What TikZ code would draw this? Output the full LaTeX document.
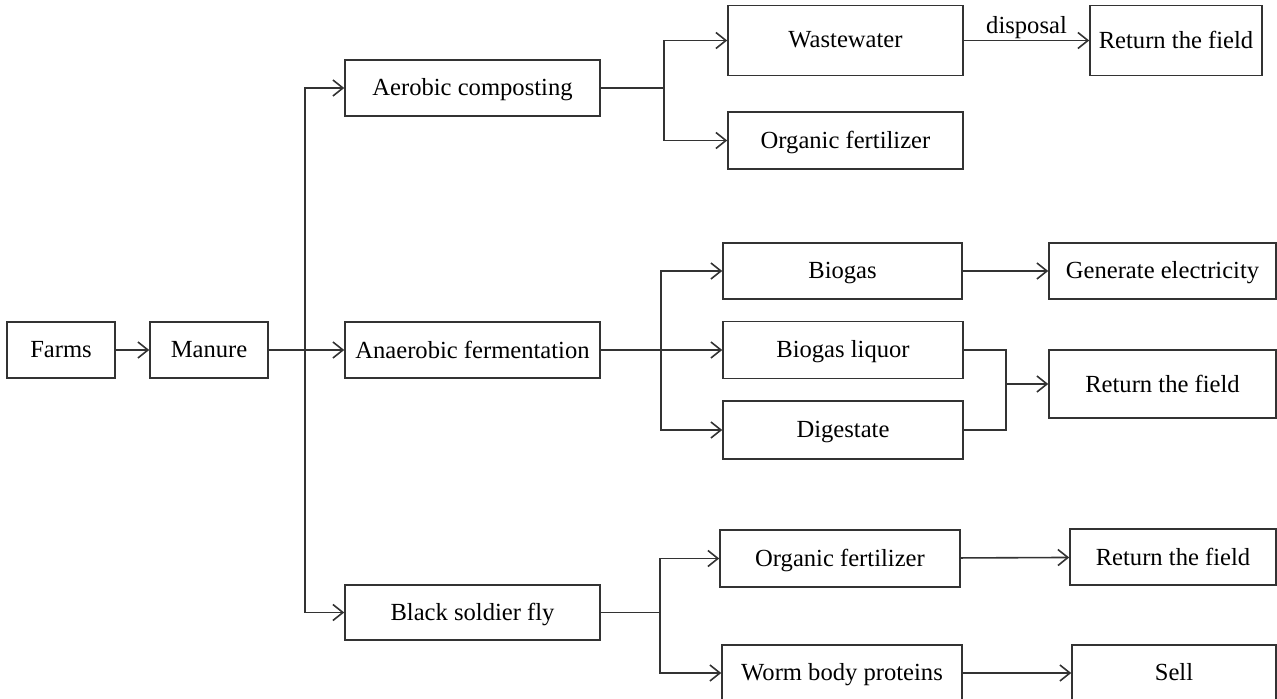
\documentclass[tikz,border=0pt]{standalone}
\usepackage{fontspec}
\setmainfont{Liberation Serif}
\usetikzlibrary{arrows.meta}
\begin{document}
\begin{tikzpicture}[x=0.5pt,y=-0.5pt,
  box/.style={draw=black!80, line width=0.8pt, rectangle, inner sep=0pt, font=\fontsize{12.3}{14}\selectfont, text depth=0.6pt},
  conn/.style={draw=black!80, line width=0.8pt},
  arr/.style={conn, -{Straight Barb[length=5pt,width=8pt,line width=0.8pt]}}]
\useasboundingbox (0,0) rectangle (1277,699);
% nodes
\node[box, minimum width=54pt, minimum height=28pt] (farms) at (61,350) {Farms};
\node[box, minimum width=59pt, minimum height=28pt] (manure) at (209,350) {Manure};
\node[box, minimum width=127.5pt, minimum height=28pt] (aer) at (472.5,88) {Aerobic composting};
\node[box, minimum width=127.5pt, minimum height=28pt] (ana) at (472.5,350) {Anaerobic fermentation};
\node[box, minimum width=127.5pt, minimum height=27.5pt] (bsf) at (472.5,612.5) {Black soldier fly};
\node[box, minimum width=117.5pt, minimum height=35pt] (ww) at (845.5,40.5) {Wastewater};
\node[box, minimum width=117.5pt, minimum height=28.5pt] (of1) at (845.5,140.5) {Organic fertilizer};
\node[box, minimum width=86pt, minimum height=35pt] (rf1) at (1176,40.5) {Return the field};
\node[box, minimum width=119.5pt, minimum height=28pt] (bg) at (842.5,271) {Biogas};
\node[box, minimum width=120pt, minimum height=28.5pt] (bl) at (843,350) {Biogas liquor};
\node[box, minimum width=120pt, minimum height=29pt] (dg) at (843,430) {Digestate};
\node[box, minimum width=113.5pt, minimum height=28pt] (ge) at (1162.5,271) {Generate electricity};
\node[box, minimum width=113.5pt, minimum height=34pt] (rf2) at (1162.5,384) {Return the field};
\node[box, minimum width=120pt, minimum height=28.5pt] (of2) at (840,558.5) {Organic fertilizer};
\node[box, minimum width=103pt, minimum height=28pt] (rf3) at (1173,557) {Return the field};
\node[box, minimum width=120pt, minimum height=28pt] (wbp) at (842,673) {Worm body proteins};
\node[box, minimum width=102pt, minimum height=28pt] (sell) at (1174,673) {Sell};
% junction coordinates
\coordinate (t) at (305,350);
\coordinate (a1) at (664,88);
\coordinate (a2) at (661,350);
\coordinate (a3) at (660,612.5);
\coordinate (m) at (1006,384);
% connectors
\draw[arr] (farms) -- (manure);
\draw[arr] (manure) -- (ana);
\draw[arr] (t) |- (aer.west);
\draw[arr] (t) |- (bsf.west);
\draw[conn] (aer.east) -- (a1);
\draw[arr] (a1) |- (ww.west);
\draw[arr] (a1) |- (of1.west);
\draw[arr] (ww) -- node[above, font=\fontsize{12.3}{14}\selectfont, yshift=-3pt] (disp) {disposal} (rf1);
\draw[arr] (ana) -- (bl);
\draw[arr] (a2) |- (bg.west);
\draw[arr] (a2) |- (dg.west);
\draw[arr] (bg) -- (ge);
\draw[conn] (bl.east) -| (m);
\draw[conn] (dg.east) -| (m);
\draw[arr] (m) -- (rf2);
\draw[conn] (bsf.east) -- (a3);
\draw[arr] (a3) |- (of2.west);
\draw[arr] (a3) |- (wbp.west);
\draw[arr] (of2) -- (rf3);
\draw[arr] (wbp) -- (sell);
\end{tikzpicture}
\end{document}
